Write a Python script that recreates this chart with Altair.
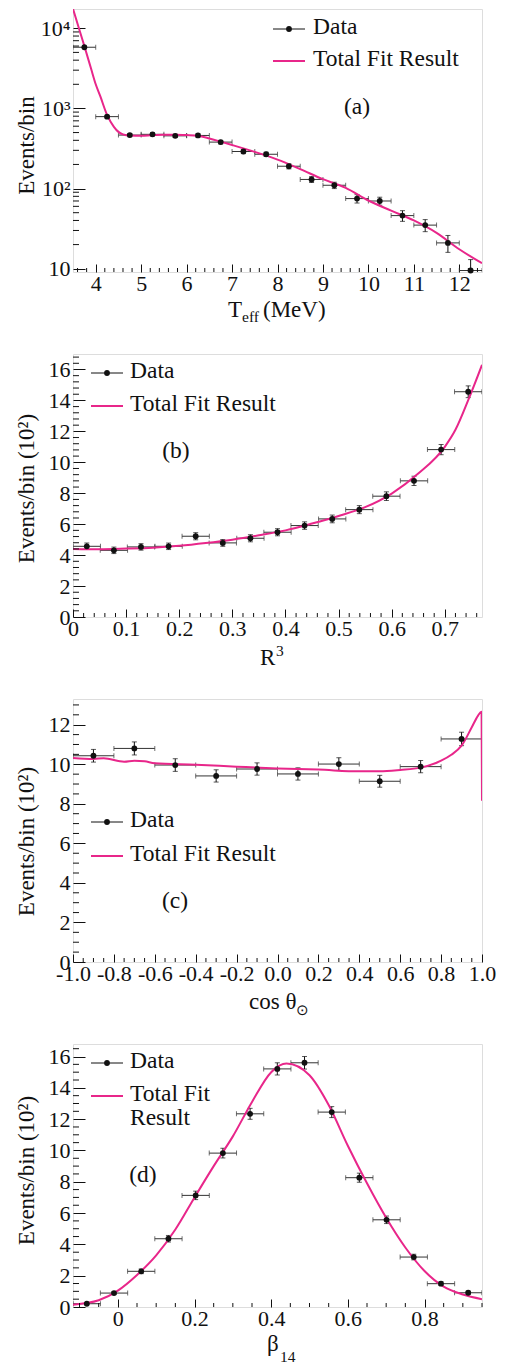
import altair as alt
import pandas as pd

FONT = "Liberation Serif"
FIT_COLOR = "#e8268a"
INK = "#111111"
BAR = "#333333"
W, H = 409, 263
LEG_FS = 23.5
TITLE_FS = 23

# ---------------- data ----------------
# (a) effective kinetic energy
a_x = [3.75, 4.25, 4.75, 5.25, 5.75, 6.25, 6.75, 7.25, 7.75, 8.25, 8.75, 9.25,
       9.75, 10.25, 10.75, 11.25, 11.75, 12.25]
a_y = [5800, 790, 465, 475, 455, 460, 380, 290, 268, 190, 130, 110, 75, 70, 46, 35, 21, 9.5]
a_err = [76, 28, 21, 22, 21, 21, 19, 17, 16, 14, 11, 10, 9, 8, 7, 6, 5, 3.5]
a_fit_x = [3.5, 3.6, 3.75, 3.9, 4.0, 4.1, 4.25, 4.4, 4.5, 4.6, 4.75, 5.0, 5.25, 5.5,
           5.75, 6.0, 6.25, 6.5, 6.75, 7.0, 7.5, 8.0, 8.5, 9.0, 9.5, 10.0, 10.5, 11.0,
           11.5, 12.0, 12.5]
a_fit_y = [17500, 11400, 6000, 3100, 2000, 1420, 830, 590, 510, 475, 458, 455, 465, 470,
           470, 465, 455, 422, 385, 350, 287, 230, 175, 131, 102, 71, 53, 40, 28, 17.5, 11.7]

# (b) R^3
b_x = [0.026, 0.077, 0.128, 0.180, 0.231, 0.282, 0.334, 0.385, 0.436, 0.488, 0.539,
       0.590, 0.642, 0.693, 0.744]
b_y = [4.57, 4.31, 4.53, 4.57, 5.22, 4.79, 5.09, 5.48, 5.91, 6.34, 6.94, 7.81, 8.80, 10.82, 14.56]
b_err = [0.21, 0.21, 0.21, 0.21, 0.23, 0.22, 0.23, 0.23, 0.24, 0.25, 0.26, 0.28, 0.30, 0.33, 0.38]
b_fit_x = [0.0, 0.05, 0.1, 0.15, 0.2, 0.25, 0.3, 0.35, 0.4, 0.45, 0.5, 0.55, 0.6, 0.65,
           0.7, 0.72, 0.745, 0.77]
b_fit_y = [4.40, 4.38, 4.42, 4.48, 4.60, 4.78, 5.0, 5.28, 5.6, 6.04, 6.53, 7.1, 7.98, 9.27,
           11.0, 12.1, 14.1, 16.3]

# (c) cos theta_sun
c_x = [-0.9, -0.7, -0.5, -0.3, -0.1, 0.1, 0.3, 0.5, 0.7, 0.9]
c_y = [10.43, 10.80, 9.96, 9.41, 9.76, 9.51, 10.01, 9.14, 9.88, 11.28]
c_err = [0.32, 0.33, 0.32, 0.31, 0.31, 0.31, 0.32, 0.30, 0.31, 0.34]
c_fit_x = [-1.0, -0.9, -0.85, -0.75, -0.7, -0.65, -0.6, -0.4, -0.2, 0.0, 0.2, 0.4, 0.5,
           0.6, 0.7, 0.8, 0.85, 0.9, 0.95, 0.98, 0.998, 1.0]
c_fit_y = [10.32, 10.27, 10.30, 10.13, 10.18, 10.15, 10.05, 9.98, 9.88, 9.79, 9.73, 9.64,
           9.64, 9.71, 9.83, 10.18, 10.48, 10.94, 11.87, 12.45, 12.66, 8.16]

# (d) beta_14
d_x = [-0.081, -0.010, 0.061, 0.132, 0.203, 0.274, 0.345, 0.416, 0.487, 0.558, 0.630,
       0.701, 0.772, 0.843, 0.914]
d_y = [0.21, 0.89, 2.28, 4.36, 7.13, 9.83, 12.34, 15.21, 15.60, 12.45, 8.26, 5.57, 3.19, 1.49, 0.91]
d_err = [0.05, 0.09, 0.15, 0.21, 0.27, 0.31, 0.35, 0.39, 0.40, 0.35, 0.29, 0.24, 0.18, 0.12, 0.10]
d_fit_x = [-0.117, -0.05, 0.0, 0.05, 0.1, 0.15, 0.2, 0.25, 0.3, 0.35, 0.4, 0.44, 0.5, 0.55,
           0.6, 0.65, 0.7, 0.75, 0.8, 0.85, 0.9, 0.95]
d_fit_y = [0.15, 0.43, 1.05, 2.05, 3.3, 4.95, 7.0, 9.0, 10.9, 13.1, 15.0, 15.55, 14.8, 12.9,
           10.3, 7.9, 5.7, 3.8, 2.3, 1.3, 0.8, 0.5]


def minors(lo, hi, step, major):
    out = []
    n = int(round((hi - lo) / step))
    for i in range(n + 1):
        v = round(lo + i * step, 4)
        if abs(v / major - round(v / major)) > 1e-6:
            out.append(v)
    return out


one = alt.Data(values=[{"k": 0}])


def vtext(txt, x, y, size=TITLE_FS, align="left", baseline="alphabetic"):
    return alt.Chart(one).mark_text(font=FONT, fontSize=size, color=INK, align=align,
                                    baseline=baseline).encode(
        x=alt.value(x), y=alt.value(y), text=alt.value(txt))


def build(p):
    if p["log"]:
        ys = alt.Scale(type="log", domain=p["ydom"], nice=False)
    else:
        ys = alt.Scale(domain=p["ydom"], nice=False, zero=False)
    xs = alt.Scale(domain=p["xdom"], nice=False, zero=False)
    xaxis = alt.Axis(values=p["xmaj"], offset=-8, tickSize=8, tickColor=INK, tickWidth=1,
                     domain=False, grid=False, labelFont=FONT, labelFontSize=22,
                     labelColor=INK, labelPadding=1, labelFlush=False, labelOverlap=False,
                     labelExpr=p["xlab"], title=None)
    yaxis = alt.Axis(values=p["ymaj"], offset=-12, tickSize=12, tickColor=INK, tickWidth=1,
                     domain=False, grid=False, labelFont=FONT, labelFontSize=22,
                     labelColor=INK, labelPadding=3, labelFlush=False, labelOverlap=False,
                     labelExpr=p["ylab"], title=p["ytitle"], titleFont=FONT,
                     titleFontSize=TITLE_FS, titleFontWeight="normal", titleColor=INK,
                     titleAngle=270, titleAlign="center", titleBaseline="alphabetic",
                     titleX=-52, titleY=p["ty"])

    def X(f):
        return alt.X(f, type="quantitative", scale=xs, axis=xaxis)

    def Y(f):
        return alt.Y(f, type="quantitative", scale=ys, axis=yaxis)

    df = pd.DataFrame({"x": p["px"], "y": p["py"], "e": p["pe"]})
    df["xlo"] = df["x"] - p["hw"]
    df["xhi"] = df["x"] + p["hw"]
    df["ylo"] = df["y"] - df["e"]
    df["yhi"] = df["y"] + df["e"]
    base = alt.Chart(df)

    layers = [
        base.mark_rule(color=BAR, strokeWidth=1, clip=True).encode(
            x=X("xlo"), x2=alt.X2("xhi"), y=Y("y")),
        base.mark_tick(orient="vertical", size=5, thickness=1, color=BAR, clip=True).encode(
            x=X("xlo"), y=Y("y")),
        base.mark_tick(orient="vertical", size=5, thickness=1, color=BAR, clip=True).encode(
            x=X("xhi"), y=Y("y")),
        base.mark_rule(color=INK, strokeWidth=1, clip=True).encode(
            x=X("x"), y=Y("ylo"), y2=alt.Y2("yhi")),
        base.mark_tick(orient="horizontal", size=5, thickness=1, color=INK, clip=True).encode(
            x=X("x"), y=Y("ylo")),
        base.mark_tick(orient="horizontal", size=5, thickness=1, color=INK, clip=True).encode(
            x=X("x"), y=Y("yhi")),
        alt.Chart(pd.DataFrame({"x": p["fx"], "y": p["fy"]})).mark_line(
            color=FIT_COLOR, strokeWidth=2, interpolate="monotone", clip=True).encode(
            x=X("x"), y=Y("y")),
        base.mark_circle(size=34, color=INK, opacity=1).encode(x=X("x"), y=Y("y")),
        alt.Chart(pd.DataFrame({"t": p["xmin"]})).mark_rule(color=INK, strokeWidth=1).encode(
            x=X("t"), y=alt.value(H), y2=alt.value(H - 4)),
        alt.Chart(pd.DataFrame({"t": p["ymin"]})).mark_rule(color=INK, strokeWidth=1).encode(
            y=Y("t"), x=alt.value(0), x2=alt.value(6)),
    ]

    lg = p["legend"]
    lx0, lx1 = lg["x0"], lg["x0"] + 32
    layers += [
        alt.Chart(one).mark_rule(color=INK, strokeWidth=1).encode(
            x=alt.value(lx0), x2=alt.value(lx1), y=alt.value(lg["y1"])),
        alt.Chart(one).mark_circle(size=34, color=INK, opacity=1).encode(
            x=alt.value((lx0 + lx1) / 2), y=alt.value(lg["y1"])),
        alt.Chart(one).mark_rule(color=FIT_COLOR, strokeWidth=2).encode(
            x=alt.value(lx0), x2=alt.value(lx1), y=alt.value(lg["y2"])),
        vtext("Data", lg["tx"], lg["y1"] - 2, size=LEG_FS, baseline="middle"),
    ]
    for i, line in enumerate(lg["fit_lines"]):
        layers.append(vtext(line, lg["tx"], lg["y2"] - 2 + i * 24, size=LEG_FS,
                            baseline="middle"))
    tag = p["tag"]
    layers.append(vtext(tag[0], tag[1], tag[2], size=LEG_FS, align="center",
                        baseline="middle"))
    for part in p["xtitle"]:
        layers.append(vtext(*part))

    return alt.layer(*layers).properties(width=W, height=H)


pa = build(dict(
    log=True, xdom=[3.5, 12.5], ydom=[9.1, 17400],
    px=a_x, py=a_y, pe=a_err, hw=0.25, fx=a_fit_x, fy=a_fit_y,
    xmaj=[4, 5, 6, 7, 8, 9, 10, 11, 12], xmin=minors(3.6, 12.4, 0.2, 1.0),
    ymaj=[10, 100, 1000, 10000],
    ymin=[m * k for k in (10, 100, 1000) for m in range(2, 10)],
    xlab="format(datum.value, 'd')",
    ylab="datum.value == 10 ? '10' : datum.value == 100 ? '10\u00b2' : datum.value == 1000 ? '10\u00b3' : '10\u2074'",
    ytitle="Events/bin", ty=136,
    legend=dict(x0=200, y1=20, y2=52, tx=240, fit_lines=["Total Fit Result"]),
    tag=("(a)", 284, 98),
    xtitle=[("T", 155, 308, TITLE_FS), ("eff", 169, 313, 15.5), ("(MeV)", 190, 308, TITLE_FS)],
))

pb = build(dict(
    log=False, xdom=[0, 0.77], ydom=[0, 17],
    px=b_x, py=b_y, pe=b_err, hw=0.0257, fx=b_fit_x, fy=b_fit_y,
    xmaj=[0, 0.1, 0.2, 0.3, 0.4, 0.5, 0.6, 0.7], xmin=minors(0.0, 0.76, 0.02, 0.1),
    ymaj=[0, 2, 4, 6, 8, 10, 12, 14, 16], ymin=minors(0.0, 16.8, 0.4, 2.0),
    xlab="datum.value == 0 ? '0' : format(datum.value, '.1f')",
    ylab="format(datum.value, 'd')",
    ytitle="Events/bin (10\u00b2)", ty=134,
    legend=dict(x0=18, y1=19, y2=52, tx=57, fit_lines=["Total Fit Result"]),
    tag=("(b)", 103, 97),
    xtitle=[("R", 187, 311, TITLE_FS), ("3", 203, 302, 15.5)],
))

pc = build(dict(
    log=False, xdom=[-1.0, 1.0], ydom=[0, 13.3],
    px=c_x, py=c_y, pe=c_err, hw=0.1, fx=c_fit_x, fy=c_fit_y,
    xmaj=[-1.0, -0.8, -0.6, -0.4, -0.2, 0.0, 0.2, 0.4, 0.6, 0.8, 1.0],
    xmin=minors(-1.0, 1.0, 0.05, 0.2),
    ymaj=[0, 2, 4, 6, 8, 10, 12], ymin=minors(0.0, 13.0, 0.5, 2.0),
    xlab="replace(format(datum.value, '.1f'), '\u2212', '-')",
    ylab="format(datum.value, 'd')",
    ytitle="Events/bin (10\u00b2)", ty=142,
    legend=dict(x0=18, y1=123, y2=157, tx=57, fit_lines=["Total Fit Result"]),
    tag=("(c)", 102, 202),
    xtitle=[("cos \u03b8", 176, 310, TITLE_FS), ("\u2299", 223, 316, 15)],
))

pd_ = build(dict(
    log=False, xdom=[-0.117, 0.95], ydom=[0, 16.8],
    px=d_x, py=d_y, pe=d_err, hw=0.0356, fx=d_fit_x, fy=d_fit_y,
    xmaj=[0, 0.2, 0.4, 0.6, 0.8], xmin=minors(-0.1, 0.95, 0.05, 0.2),
    ymaj=[0, 2, 4, 6, 8, 10, 12, 14, 16], ymin=minors(0.0, 16.5, 0.5, 2.0),
    xlab="datum.value == 0 ? '0' : format(datum.value, '.1f')",
    ylab="format(datum.value, 'd')",
    ytitle="Events/bin (10\u00b2)", ty=126,
    legend=dict(x0=18, y1=19, y2=52, tx=57, fit_lines=["Total Fit", "Result"]),
    tag=("(d)", 70, 131),
    xtitle=[("\u03b2", 194, 307, TITLE_FS), ("14", 207, 318, 15.5)],
))

chart = alt.vconcat(pa, pb, pc, pd_, spacing=82, bounds="flush").properties(
    padding={"left": 6, "top": 0, "right": 0, "bottom": 0}
).configure_view(stroke=INK, strokeWidth=1).configure(background="white")

chart.save("out.html", embed_options={"renderer": "svg", "actions": False})
